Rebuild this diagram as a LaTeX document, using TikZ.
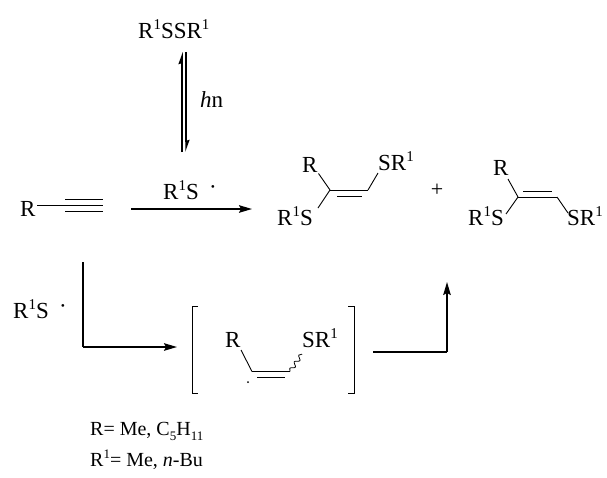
\documentclass[tikz,border=0pt]{standalone}
\usepackage{fontspec}
\setmainfont{Liberation Serif}
\usetikzlibrary{arrows.meta,decorations.pathmorphing}
\newcommand\supr[1]{\raisebox{9pt}{\fontsize{15}{15}\selectfont #1}}
\newcommand\supl[1]{\raisebox{8pt}{\fontsize{13}{13}\selectfont #1}}
\newcommand\subs[1]{\raisebox{-5pt}{\fontsize{13}{13}\selectfont #1}}
\newcommand\rdot{\raisebox{5pt}{\textperiodcentered}}
\tikzset{
  chem/.style={font=\fontsize{23}{27}\selectfont, inner sep=0pt, anchor=base west},
  legend/.style={font=\fontsize{20}{24}\selectfont, inner sep=0pt, anchor=base west},
  bond/.style={line width=0.9pt},
  rxn/.style={line width=1.7pt, -{Stealth[length=13pt,width=7.5pt,inset=2pt]}},
  plain/.style={line width=1.1pt},
  harp/.style={line width=1.5pt, -{Stealth[left,length=10pt,width=7pt,inset=1pt]}},
  brk/.style={line width=1pt}
}
\begin{document}
\begin{tikzpicture}[x=1pt,y=-1pt]
\useasboundingbox (0,0) rectangle (607,477);
% top disulfide and equilibrium
\node[chem] (dis) at (138,38) {R\supr{1}SSR\supr{1}};
\coordinate (eqLtop) at (182,52);
\coordinate (eqLbot) at (182,152);
\coordinate (eqRtop) at (186,52);
\coordinate (eqRbot) at (186,152);
\draw[harp] (eqLbot) -- (eqLtop);
\draw[harp] (eqRtop) -- (eqRbot);
\node[chem] (hv) at (200,107) {\textit{h}n};
% alkyne
\node[chem] (Ra) at (20,216) {R};
\coordinate (a0) at (37,205.7);
\coordinate (a1) at (65,205.7);
\coordinate (a2) at (103,205.7);
\draw[bond] (a0) -- (a1);
\draw[bond] (a1) -- (a2);
\draw[bond] ([yshift=-6.2pt]a1) -- ([yshift=-6.2pt]a2);
\draw[bond] ([yshift=6.2pt]a1) -- ([yshift=6.2pt]a2);
% main arrow
\node[chem] (lab1) at (163,199) {R\supr{1}S\hspace{0.45em}\rdot};
\coordinate (ar1s) at (131,209);
\coordinate (ar1e) at (252,209);
\draw[rxn] (ar1s) -- (ar1e);
% product 1
\coordinate (p1a) at (330,190);
\coordinate (p1b) at (368,190);
\node[chem] (p1R) at (302,172) {R};
\node[chem] (p1SR) at (378,170) {SR\supr{1}};
\node[chem] (p1RS) at (277,225) {R\supr{1}S};
\draw[bond] (p1a) -- (p1b);
\draw[bond] ([xshift=7pt,yshift=-6.7pt]p1a) -- ([xshift=-6pt,yshift=-6.7pt]p1b);
\draw[bond] (p1a) -- (318.5,173.5);
\draw[bond] (p1b) -- (378,173);
\draw[bond] (p1a) -- (318,208);
% plus
\node[font=\fontsize{22}{24}\selectfont, inner sep=0pt] (plus) at (437,190) {+};
% product 2
\coordinate (p2a) at (518,197);
\coordinate (p2b) at (557,197);
\node[chem] (p2R) at (493,175) {R};
\node[chem] (p2RS) at (468,225) {R\supr{1}S};
\node[chem] (p2SR) at (567,225) {SR\supr{1}};
\draw[bond] (p2a) -- (p2b);
\draw[bond] ([xshift=5pt,yshift=5.5pt]p2a) -- ([xshift=-5pt,yshift=5.5pt]p2b);
\draw[bond] (p2a) -- (508,179);
\draw[bond] (p2a) -- (506,214);
\draw[bond] (p2b) -- (568,213);
% lower route
\node[chem] (lab2) at (13,318) {R\supr{1}S\hspace{0.45em}\rdot};
\coordinate (l0) at (83,262);
\coordinate (l1) at (83,347);
\coordinate (l2) at (177,347);
\draw[plain] (l0) -- (l1);
\draw[rxn] (l1) -- (l2);
% brackets
\draw[brk] (198,306) -- (192,306) -- (192,393) -- (198,393);
\draw[brk] (348,306) -- (354,306) -- (354,393) -- (348,393);
% radical intermediate
\node[chem] (iR) at (225,347) {R};
\node[chem] (iSR) at (302,347) {SR\supr{1}};
\coordinate (i1) at (252,371.5);
\coordinate (i2) at (290,371.5);
\coordinate (i3) at (302,354);
\draw[bond] (241,350) -- (i1);
\draw[bond] (i1) -- (i2);
\draw[bond] ([xshift=5pt,yshift=-6pt]i1) -- ([xshift=-5pt,yshift=-6pt]i2);
\draw[line width=0.8pt, decorate, decoration={snake, amplitude=2pt, segment length=8pt}] (i2) -- (i3);
\fill (248,382) circle (1pt);
% to products
\coordinate (r0) at (373,352);
\coordinate (r1) at (447,352);
\coordinate (r2) at (447,282);
\draw[plain] (r0) -- (r1);
\draw[rxn] (r1) -- (r2);
% legend
\node[legend] (leg1) at (90,435) {R= Me, C\subs{5}H\subs{11}};
\node[legend] (leg2) at (90,466) {R\supl{1}= Me, \textit{n}-Bu};
\end{tikzpicture}
\end{document}
